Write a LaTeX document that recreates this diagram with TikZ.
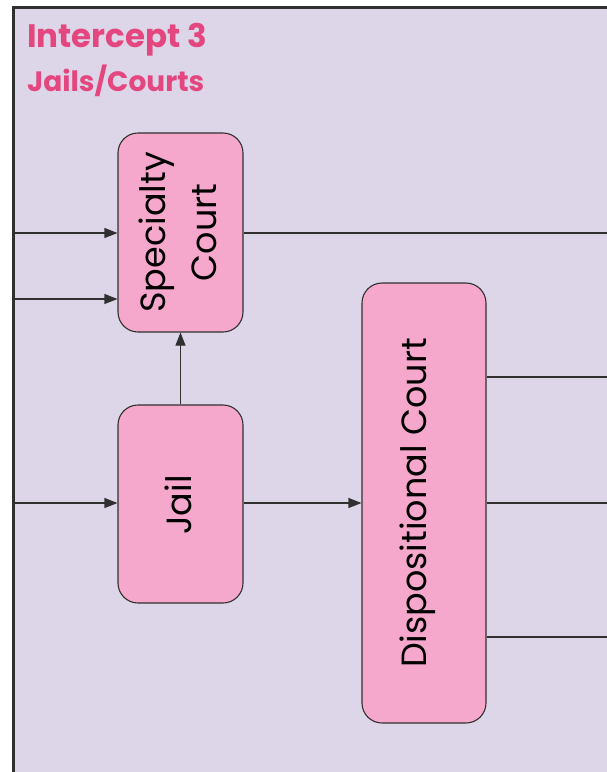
\documentclass[tikz,border=0pt]{standalone}
\usepackage{fontspec}
\setmainfont{Poppins}
\usetikzlibrary{arrows.meta}
\definecolor{bgc}{HTML}{DDD6E8}
\definecolor{boxc}{HTML}{F5A8CC}
\definecolor{titc}{HTML}{E4467F}
\definecolor{linec}{HTML}{303030}
\tikzset{
  x=1pt,y=1pt,
  boxn/.style={draw=linec, line width=1.1pt, fill=boxc, rounded corners=20pt, inner sep=0pt},
  lbl/.style={rotate=90, align=center, font=\fontsize{35}{51}\selectfont, text=black, inner sep=0pt},
  conn/.style={draw=linec, line width=1.1pt},
  arr/.style={conn, -{Triangle[length=13pt,width=10pt]}},
}
\begin{document}
\begin{tikzpicture}
\useasboundingbox (0,0) rectangle (607,-772);
\fill[white] (0,0) rectangle (607,-772);
\fill[bgc] (13,-7) rectangle (607,-772);
\draw[linec, line width=3pt] (13,-772) -- (13,-7) -- (607,-7);
\node[anchor=base west, text=titc, font=\fontsize{32.5}{36}\selectfont\bfseries, inner sep=0pt] (t1) at (27,-47) {Intercept 3};
\node[anchor=base west, text=titc, font=\fontsize{28}{32}\selectfont\bfseries, inner sep=0pt] (t2) at (27,-91) {Jails/Courts};
\node[boxn, minimum width=125pt, minimum height=199pt] (spec) at (180.5,-232.5) {};
\node[lbl] (specl) at (178,-232.5) {Specialty\\Court};
\node[boxn, minimum width=125pt, minimum height=198pt] (jail) at (180.5,-504) {};
\node[lbl] (jaill) at (178,-505) {Jail};
\node[boxn, minimum width=124pt, minimum height=440pt] (disp) at (424,-503) {};
\node[lbl] (displ) at (418,-503) {Dispositional Court};
\coordinate (in1) at (14.5,-233);
\coordinate (in2) at (14.5,-299);
\coordinate (in3) at (14.5,-503);
\coordinate (out1) at (607,-233);
\coordinate (out2) at (607,-377);
\coordinate (out3) at (607,-503);
\coordinate (out4) at (607,-637);
\draw[arr] (in1) -- (in1 -| spec.west);
\draw[arr] (in2) -- (in2 -| spec.west);
\draw[arr] (in3) -- (in3 -| jail.west);
\draw[arr] (jail.north) -- (spec.south);
\draw[arr] (jail.east |- in3) -- (in3 -| disp.west);
\draw[conn] (spec.east |- out1) -- (out1);
\draw[conn] (disp.east |- out2) -- (out2);
\draw[conn] (disp.east |- out3) -- (out3);
\draw[conn] (disp.east |- out4) -- (out4);
\end{tikzpicture}
\end{document}
